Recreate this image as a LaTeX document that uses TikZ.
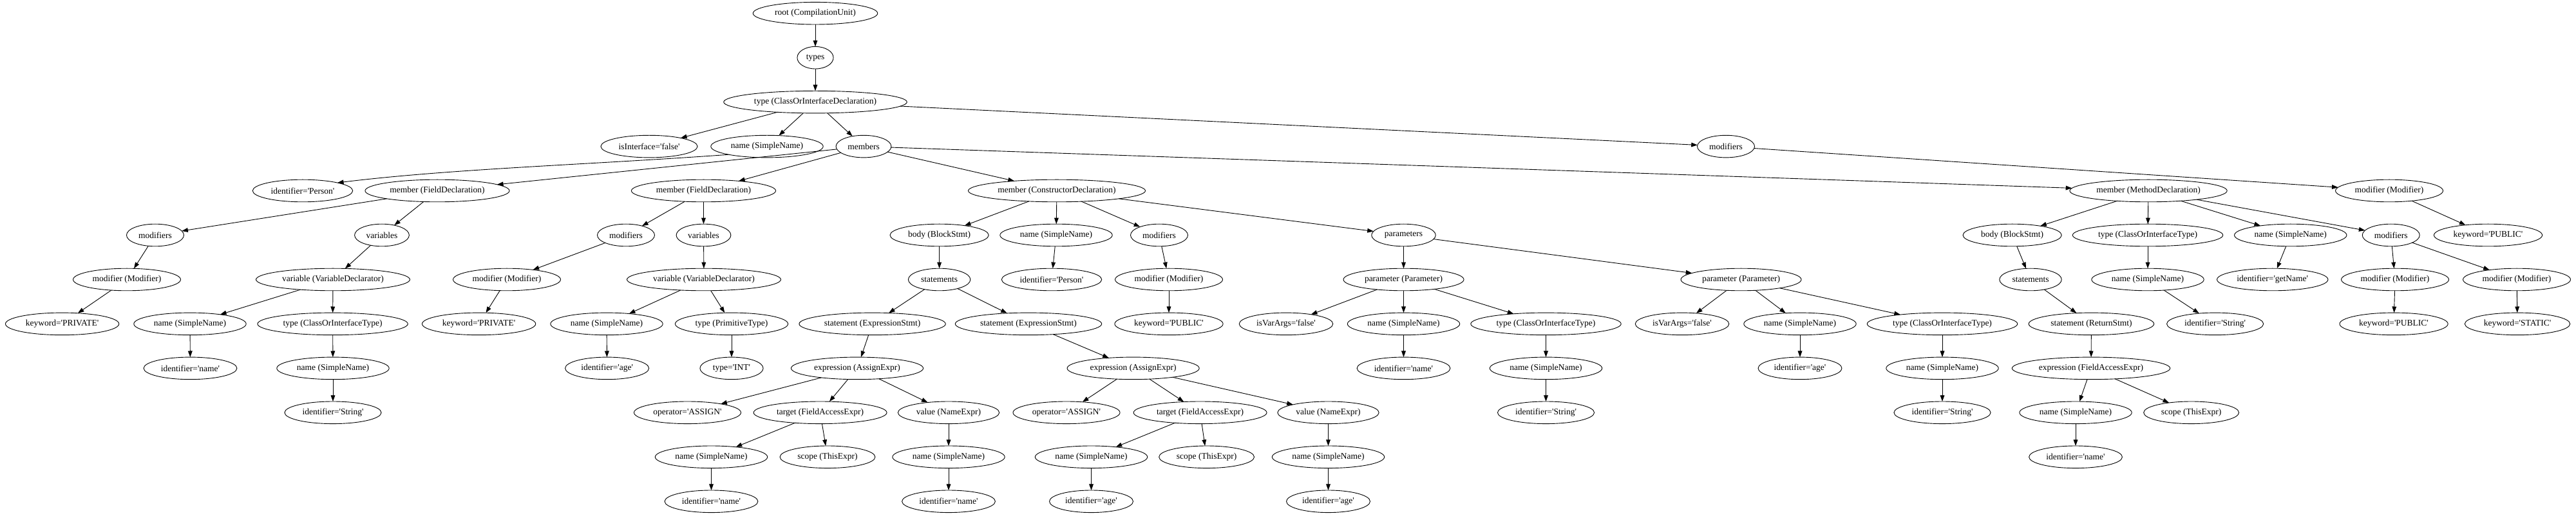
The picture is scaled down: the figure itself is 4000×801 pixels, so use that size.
\documentclass[tikz,border=0pt]{standalone}
\usepackage{fontspec}
\newfontfamily\gvfont{Liberation Serif}
\usetikzlibrary{arrows.meta,shapes.geometric}
\begin{document}
\begin{tikzpicture}[x=1pt,y=1pt,
  gv/.style={ellipse, draw, line width=0.9pt, inner xsep=5.6pt, inner ysep=0pt,
    minimum height=34.6pt, minimum width=52pt, outer sep=0pt,
    font=\gvfont\fontsize{13.5}{16}\selectfont},
  conn/.style={line width=0.9pt, -{Triangle[length=9.6pt,width=6.7pt]}}]
\useasboundingbox (0,0) rectangle (4000,801);
\fill[white] (0,0) rectangle (4000,801);
% row 1-3
\node[gv] (root) at (1266,780.3) {root (CompilationUnit)};
\node[gv] (types) at (1266,711.3) {types};
\node[gv] (type) at (1266,642.4) {type (ClassOrInterfaceDeclaration)};
% row 4
\node[gv] (isint) at (1008,573.4) {isInterface='false'};
\node[gv] (cname) at (1191,573.4) {name (SimpleName)};
\node[gv] (members) at (1341,573.4) {members};
\node[gv] (cmods) at (2680,573.4) {modifiers};
% row 5
\node[gv] (cident) at (470,504.5) {identifier='Person'};
\node[gv] (f1) at (679,504.5) {member (FieldDeclaration)};
\node[gv] (f2) at (1092.5,504.5) {member (FieldDeclaration)};
\node[gv] (ctor) at (1641,504.5) {member (ConstructorDeclaration)};
\node[gv] (meth) at (3336,504.5) {member (MethodDeclaration)};
\node[gv] (cmod) at (3710,504.5) {modifier (Modifier)};
% row 6
\node[gv] (f1mods) at (241,435.5) {modifiers};
\node[gv] (f1vars) at (593,435.5) {variables};
\node[gv] (f2mods) at (972,435.5) {modifiers};
\node[gv] (f2vars) at (1092.5,435.5) {variables};
\node[gv] (ctbody) at (1458.6,435.5) {body (BlockStmt)};
\node[gv] (ctname) at (1640,435.5) {name (SimpleName)};
\node[gv] (ctmods) at (1800,435.5) {modifiers};
\node[gv] (ctparams) at (2179.5,435.5) {parameters};
\node[gv] (mbody) at (3124.6,435.5) {body (BlockStmt)};
\node[gv] (mtype) at (3335,435.5) {type (ClassOrInterfaceType)};
\node[gv] (mname) at (3556.7,435.5) {name (SimpleName)};
\node[gv] (mmods) at (3712.7,435.5) {modifiers};
\node[gv] (ckw) at (3863.5,435.5) {keyword='PUBLIC'};
% row 7
\node[gv] (f1mod) at (197,366.5) {modifier (Modifier)};
\node[gv] (f1var) at (517,366.5) {variable (VariableDeclarator)};
\node[gv] (f2mod) at (787,366.5) {modifier (Modifier)};
\node[gv] (f2var) at (1093,366.5) {variable (VariableDeclarator)};
\node[gv] (ctstmts) at (1458.6,366.5) {statements};
\node[gv] (ctid) at (1633,366.5) {identifier='Person'};
\node[gv] (ctmod) at (1815,366.5) {modifier (Modifier)};
\node[gv] (p1) at (2179.5,366.5) {parameter (Parameter)};
\node[gv] (p2) at (2703.5,366.5) {parameter (Parameter)};
\node[gv] (mstmts) at (3153,366.5) {statements};
\node[gv] (mtname) at (3335,366.5) {name (SimpleName)};
\node[gv] (mid) at (3528.7,366.5) {identifier='getName'};
\node[gv] (mmod1) at (3719,366.5) {modifier (Modifier)};
\node[gv] (mmod2) at (3908,366.5) {modifier (Modifier)};
% row 8
\node[gv] (f1kw) at (96.6,297.6) {keyword='PRIVATE'};
\node[gv] (f1vname) at (295,297.6) {name (SimpleName)};
\node[gv] (f1vtype) at (516.6,297.6) {type (ClassOrInterfaceType)};
\node[gv] (f2kw) at (743.6,297.6) {keyword='PRIVATE'};
\node[gv] (f2vname) at (942,297.6) {name (SimpleName)};
\node[gv] (f2vtype) at (1136,297.6) {type (PrimitiveType)};
\node[gv] (st1) at (1354.6,297.6) {statement (ExpressionStmt)};
\node[gv] (st2) at (1597,297.6) {statement (ExpressionStmt)};
\node[gv] (ctkw) at (1815,297.6) {keyword='PUBLIC'};
\node[gv] (p1va) at (1997,297.6) {isVarArgs='false'};
\node[gv] (p1name) at (2179.5,297.6) {name (SimpleName)};
\node[gv] (p1type) at (2400.5,297.6) {type (ClassOrInterfaceType)};
\node[gv] (p2va) at (2612,297.6) {isVarArgs='false'};
\node[gv] (p2name) at (2795,297.6) {name (SimpleName)};
\node[gv] (p2type) at (3016,297.6) {type (ClassOrInterfaceType)};
\node[gv] (mret) at (3247.4,297.6) {statement (ReturnStmt)};
\node[gv] (mtid) at (3439.6,297.6) {identifier='String'};
\node[gv] (mkw1) at (3717,297.6) {keyword='PUBLIC'};
\node[gv] (mkw2) at (3909,297.6) {keyword='STATIC'};
% row 9
\node[gv] (f1vnid) at (295.5,228.6) {identifier='name'};
\node[gv] (f1tname) at (517,228.6) {name (SimpleName)};
\node[gv] (f2vnid) at (942.6,228.6) {identifier='age'};
\node[gv] (f2tt) at (1136,228.6) {type='INT'};
\node[gv] (ex1) at (1331,228.6) {expression (AssignExpr)};
\node[gv] (ex2) at (1759.6,228.6) {expression (AssignExpr)};
\node[gv] (p1nid) at (2179.5,228.6) {identifier='name'};
\node[gv] (p1tname) at (2400.5,228.6) {name (SimpleName)};
\node[gv] (p2nid) at (2795,228.6) {identifier='age'};
\node[gv] (p2tname) at (3016,228.6) {name (SimpleName)};
\node[gv] (mex) at (3247,228.6) {expression (FieldAccessExpr)};
% row 10
\node[gv] (f1tid) at (517,159.7) {identifier='String'};
\node[gv] (op1) at (1067.5,159.7) {operator='ASSIGN'};
\node[gv] (tg1) at (1273.6,159.7) {target (FieldAccessExpr)};
\node[gv] (val1) at (1473,159.7) {value (NameExpr)};
\node[gv] (op2) at (1656,159.7) {operator='ASSIGN'};
\node[gv] (tg2) at (1863.6,159.7) {target (FieldAccessExpr)};
\node[gv] (val2) at (2062.5,159.7) {value (NameExpr)};
\node[gv] (p1tid) at (2400.5,159.7) {identifier='String'};
\node[gv] (p2tid) at (3016,159.7) {identifier='String'};
\node[gv] (mexname) at (3223,159.7) {name (SimpleName)};
\node[gv] (mexscope) at (3402.6,159.7) {scope (ThisExpr)};
% row 11
\node[gv] (tg1name) at (1104.5,90.7) {name (SimpleName)};
\node[gv] (tg1scope) at (1285,90.7) {scope (ThisExpr)};
\node[gv] (val1name) at (1473,90.7) {name (SimpleName)};
\node[gv] (tg2name) at (1694.5,90.7) {name (SimpleName)};
\node[gv] (tg2scope) at (1873.6,90.7) {scope (ThisExpr)};
\node[gv] (val2name) at (2062.5,90.7) {name (SimpleName)};
\node[gv] (mexnid) at (3223,90.7) {identifier='name'};
% row 12
\node[gv] (tg1nid) at (1104.5,21.7) {identifier='name'};
\node[gv] (val1nid) at (1473,21.7) {identifier='name'};
\node[gv] (tg2nid) at (1694.5,21.7) {identifier='age'};
\node[gv] (val2nid) at (2062.5,21.7) {identifier='age'};
% edges
\foreach \a/\b in {root/types, types/type, type/isint, type/cname, type/members, type/cmods,
  members/f1, members/f2, members/ctor, members/meth, cmods/cmod, cmod/ckw,
  f1/f1mods, f1/f1vars, f1mods/f1mod, f1mod/f1kw, f1vars/f1var, f1var/f1vname, f1var/f1vtype,
  f1vname/f1vnid, f1vtype/f1tname, f1tname/f1tid,
  f2/f2mods, f2/f2vars, f2mods/f2mod, f2mod/f2kw, f2vars/f2var, f2var/f2vname, f2var/f2vtype,
  f2vname/f2vnid, f2vtype/f2tt,
  ctor/ctbody, ctor/ctname, ctor/ctmods, ctor/ctparams, ctbody/ctstmts, ctname/ctid,
  ctmods/ctmod, ctmod/ctkw, ctstmts/st1, ctstmts/st2, st1/ex1, st2/ex2,
  ex1/op1, ex1/tg1, ex1/val1, tg1/tg1name, tg1/tg1scope, tg1name/tg1nid, val1/val1name, val1name/val1nid,
  ex2/op2, ex2/tg2, ex2/val2, tg2/tg2name, tg2/tg2scope, tg2name/tg2nid, val2/val2name, val2name/val2nid,
  ctparams/p1, ctparams/p2, p1/p1va, p1/p1name, p1/p1type, p1name/p1nid, p1type/p1tname, p1tname/p1tid,
  p2/p2va, p2/p2name, p2/p2type, p2name/p2nid, p2type/p2tname, p2tname/p2tid,
  meth/mbody, meth/mtype, meth/mname, meth/mmods, mbody/mstmts, mstmts/mret, mret/mex,
  mex/mexname, mex/mexscope, mexname/mexnid, mtype/mtname, mtname/mtid, mname/mid,
  mmods/mmod1, mmods/mmod2, mmod1/mkw1, mmod2/mkw2}
  \draw[conn] (\a) -- (\b);
\draw[conn] (cname.192) .. controls +(-220,-16) and +(180,22) .. (cident.13);
\end{tikzpicture}
\end{document}
